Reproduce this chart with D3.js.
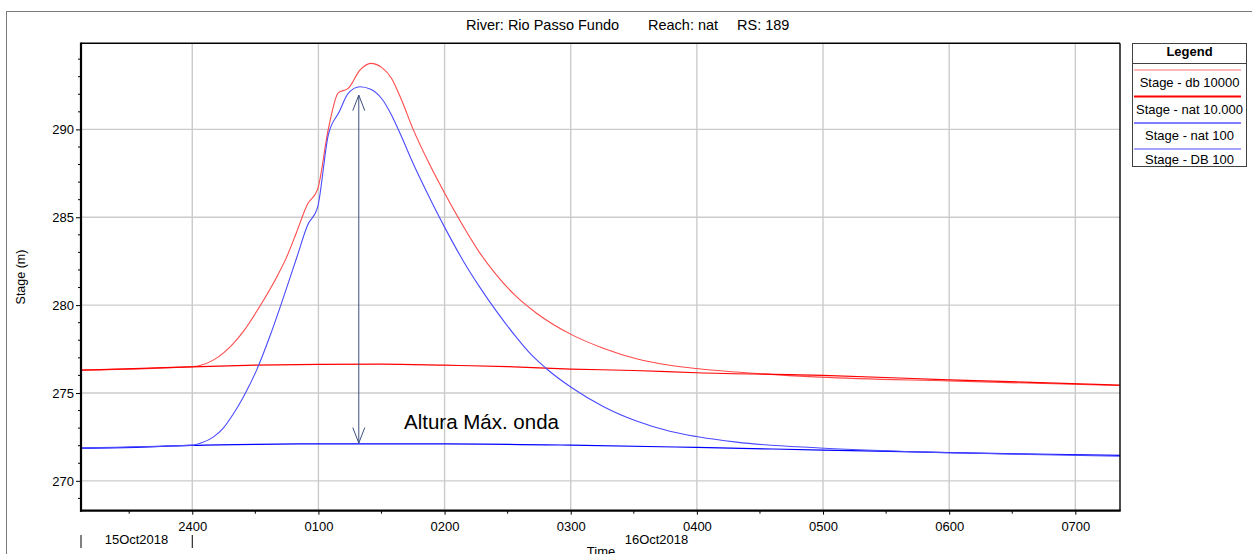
<!DOCTYPE html>
<html>
<head>
<meta charset="utf-8">
<script src="https://cdn.jsdelivr.net/npm/d3@7"></script>
<style>
  html, body { margin: 0; padding: 0; background: #ffffff; }
  svg { display: block; font-family: "Liberation Sans", Arial, sans-serif; }
</style>
</head>
<body>
<svg id="chart" width="1252" height="554"></svg>
<script>
// ---- Data (time in hours relative to 16Oct2018 00:00, i.e. "2400" of 15Oct2018) ----
const titleParts = ["River: Rio Passo Fundo", "Reach: nat", "RS: 189"];
const seriesNames = ["Stage - db 10000", "Stage - nat 10.000", "Stage - nat 100", "Stage - DB 100"];
const seriesColors = ["#ff4a4a", "#ff0000", "#0000ff", "#4a4aff"];

const dbRedTime  = [-0.882, 0, 0.061, 0.166, 0.246, 0.325, 0.404, 0.536, 0.669, 0.748, 0.827, 0.914, 0.994, 1.078, 1.157, 1.236, 1.329, 1.414, 1.501, 1.580, 1.659, 1.751, 1.884, 2.002, 2.147, 2.280, 2.412, 2.570, 2.729, 3.006, 3.257, 3.521, 3.785, 3.997, 4.314, 4.974, 6.004, 7.354];
const dbRedStage = [276.3, 276.5, 276.56, 276.87, 277.27, 277.81, 278.49, 279.94, 281.59, 282.73, 284.15, 285.75, 286.6, 290.0, 292.08, 292.33, 293.37, 293.76, 293.53, 292.9, 291.67, 290.0, 287.97, 286.35, 284.5, 282.96, 281.71, 280.48, 279.54, 278.32, 277.55, 276.95, 276.58, 276.39, 276.19, 275.9, 275.68, 275.42];

const natRedTime  = [-0.882, -0.4, 0, 0.5, 1.0, 1.5, 2.0, 2.5, 3.0, 3.5, 4.0, 5.0, 6.0, 7.354];
const natRedStage = [276.3, 276.4, 276.49, 276.58, 276.63, 276.64, 276.58, 276.5, 276.36, 276.28, 276.15, 276.0, 275.75, 275.45];

const natBlueTime  = [-0.882, -0.4, 0, 0.5, 1.0, 2.0, 3.0, 4.0, 5.0, 6.0, 7.354];
const natBlueStage = [271.86, 271.92, 272.02, 272.08, 272.1, 272.1, 272.03, 271.9, 271.75, 271.6, 271.45];

const dbBlueTime  = [-0.882, 0, 0.075, 0.166, 0.246, 0.325, 0.404, 0.510, 0.616, 0.721, 0.827, 0.914, 0.994, 1.078, 1.165, 1.236, 1.329, 1.414, 1.501, 1.580, 1.659, 1.751, 1.884, 2.002, 2.147, 2.280, 2.412, 2.570, 2.672, 2.808, 3.006, 3.257, 3.521, 3.785, 3.997, 4.314, 4.974, 6.0, 7.354];
const dbBlueStage = [271.88, 272.03, 272.17, 272.49, 273.0, 273.8, 274.76, 276.3, 278.24, 280.4, 282.68, 284.55, 285.58, 289.68, 291.0, 292.05, 292.43, 292.29, 291.76, 290.81, 289.58, 288.06, 286.07, 284.41, 282.53, 281.01, 279.64, 278.16, 277.29, 276.38, 275.31, 274.23, 273.4, 272.82, 272.52, 272.2, 271.87, 271.6, 271.4];

const xTickHours = [0, 1, 2, 3, 4, 5, 6, 7];
const xTickLabels = ["2400", "0100", "0200", "0300", "0400", "0500", "0600", "0700"];
const yTickValues = [270, 275, 280, 285, 290];
const dateLabels = ["15Oct2018", "16Oct2018"];
const annotationText = "Altura Máx. onda";
const arrowTime = 1.32, arrowTop = 291.95, arrowBottom = 272.15;

// ---- Layout ----
const svg = d3.select("#chart");
const L = 81, R = 1120, T = 43.3, B = 510.7;
const x = d3.scaleLinear().domain([-0.882, 7.354]).range([L, R]);
const y = d3.scaleLinear().domain([268.3, 294.9]).range([B, T]);

// outer frame
svg.append("rect").attr("x", 6.5).attr("y", 11.5).attr("width", 1260).attr("height", 560)
  .attr("fill", "none").attr("stroke", "#7a7a7a").attr("stroke-width", 1);

// title
const titleX = [466, 648, 737];
titleParts.forEach((t, i) => {
  svg.append("text").attr("x", titleX[i]).attr("y", 30).attr("font-size", 14.5)
    .attr("fill", "#000").text(t);
});

// grid
const grid = svg.append("g");
grid.selectAll("line.v").data(xTickHours).join("line")
  .attr("x1", d => x(d)).attr("x2", d => x(d)).attr("y1", T).attr("y2", B)
  .attr("stroke", "#cbcbcb").attr("stroke-width", 1.4);
grid.selectAll("line.h").data(yTickValues).join("line")
  .attr("x1", L).attr("x2", R).attr("y1", d => y(d)).attr("y2", d => y(d))
  .attr("stroke", "#cbcbcb").attr("stroke-width", 1.4);

// series
const line = d3.line().x(d => x(d[0])).y(d => y(d[1])).curve(d3.curveMonotoneX);
const allSeries = [
  { t: dbRedTime, v: dbRedStage, c: seriesColors[0], w: 1.1 },
  { t: natRedTime, v: natRedStage, c: seriesColors[1], w: 1.2 },
  { t: natBlueTime, v: natBlueStage, c: seriesColors[2], w: 1.2 },
  { t: dbBlueTime, v: dbBlueStage, c: seriesColors[3], w: 1.1 }
];
const plotG = svg.append("g");
allSeries.forEach(s => {
  plotG.append("path").datum(s.t.map((t, i) => [t, s.v[i]]))
    .attr("d", line).attr("fill", "none").attr("stroke", s.c).attr("stroke-width", s.w);
});

// annotation arrow
const ac = "#3d4f80";
const ax = x(arrowTime), ay1 = y(arrowTop), ay2 = y(arrowBottom);
const ann = svg.append("g").attr("stroke", ac).attr("stroke-width", 1).attr("fill", "none");
ann.append("line").attr("x1", ax).attr("x2", ax).attr("y1", ay1).attr("y2", ay2);
ann.append("path").attr("d", `M${ax - 6},${ay1 + 15.5}L${ax},${ay1}L${ax + 6},${ay1 + 15.5}`);
ann.append("path").attr("d", `M${ax - 6},${ay2 - 15.5}L${ax},${ay2}L${ax + 6},${ay2 - 15.5}`);
svg.append("text").attr("x", 404).attr("y", 428.5).attr("font-size", 20.5).attr("fill", "#000")
  .text(annotationText);

// axes
const yAxis = d3.axisLeft(y).tickValues(yTickValues).tickSize(5).tickPadding(2).tickFormat(d3.format("d"));
const gy = svg.append("g").attr("transform", `translate(${L},0)`).call(yAxis);
gy.select(".domain").remove();
gy.selectAll("text").attr("font-size", 13).attr("font-family", "Liberation Sans, Arial, sans-serif").attr("fill", "#000");
gy.selectAll("line").attr("stroke", "#000");
const yMinor = d3.range(269, 295).filter(v => v % 5 !== 0);
svg.append("g").selectAll("line").data(yMinor).join("line")
  .attr("x1", L - 3).attr("x2", L).attr("y1", d => y(d)).attr("y2", d => y(d)).attr("stroke", "#000");

const xAxis = d3.axisBottom(x).tickValues(xTickHours).tickSize(4).tickPadding(7)
  .tickFormat((d, i) => xTickLabels[i]);
const gx = svg.append("g").attr("transform", `translate(0,${B})`).call(xAxis);
gx.select(".domain").remove();
gx.selectAll("text").attr("font-size", 13).attr("font-family", "Liberation Sans, Arial, sans-serif").attr("fill", "#000");
gx.selectAll("line").attr("stroke", "#000");
const xMinor = d3.range(-0.5, 7.5, 1);
svg.append("g").selectAll("line").data(xMinor).join("line")
  .attr("x1", d => x(d)).attr("x2", d => x(d)).attr("y1", B).attr("y2", B + 3).attr("stroke", "#000");

// plot frame
svg.append("line").attr("x1", L).attr("x2", R).attr("y1", T).attr("y2", T).attr("stroke", "#000").attr("stroke-width", 1.4);
svg.append("line").attr("x1", R).attr("x2", R).attr("y1", T).attr("y2", B).attr("stroke", "#000").attr("stroke-width", 1.4);
svg.append("line").attr("x1", L).attr("x2", L).attr("y1", T - 0.7).attr("y2", B + 1).attr("stroke", "#000").attr("stroke-width", 2.2);
svg.append("line").attr("x1", L - 1).attr("x2", R + 0.7).attr("y1", B).attr("y2", B).attr("stroke", "#000").attr("stroke-width", 2.2);

// date row
[x(-0.882), x(0)].forEach(px => {
  svg.append("line").attr("x1", px).attr("x2", px).attr("y1", 535).attr("y2", 548).attr("stroke", "#000").attr("stroke-width", 1);
});
svg.append("text").attr("x", 136.5).attr("y", 544).attr("text-anchor", "middle").attr("font-size", 13).text(dateLabels[0]);
svg.append("text").attr("x", 656.5).attr("y", 544).attr("text-anchor", "middle").attr("font-size", 13).text(dateLabels[1]);
svg.append("text").attr("x", 601).attr("y", 556).attr("text-anchor", "middle").attr("font-size", 13).text("Time");

// y label
svg.append("text").attr("transform", "translate(25,277) rotate(-90)").attr("text-anchor", "middle")
  .attr("font-size", 12.5).text("Stage (m)");

// legend
const lg = svg.append("g");
lg.append("rect").attr("x", 1132.5).attr("y", 43.5).attr("width", 114).attr("height", 123)
  .attr("fill", "#fff").attr("stroke", "#404040").attr("stroke-width", 1);
lg.append("text").attr("x", 1189.5).attr("y", 56).attr("text-anchor", "middle").attr("font-size", 13)
  .attr("font-weight", "bold").text("Legend");
lg.append("line").attr("x1", 1132.5).attr("x2", 1246.5).attr("y1", 63.5).attr("y2", 63.5).attr("stroke", "#404040");
const legLineY = [70, 96.5, 123, 149];
const legTextY = [86.5, 113.5, 140, 163.5];
seriesNames.forEach((n, i) => {
  lg.append("line").attr("x1", 1134).attr("x2", 1241).attr("y1", legLineY[i]).attr("y2", legLineY[i])
    .attr("stroke", i === 0 ? "#ff7070" : seriesColors[i]).attr("stroke-width", i === 1 ? 1.8 : 1.2);
  lg.append("text").attr("x", 1189.5).attr("y", legTextY[i]).attr("text-anchor", "middle")
    .attr("font-size", 13).text(n);
});
</script>
</body>
</html>
